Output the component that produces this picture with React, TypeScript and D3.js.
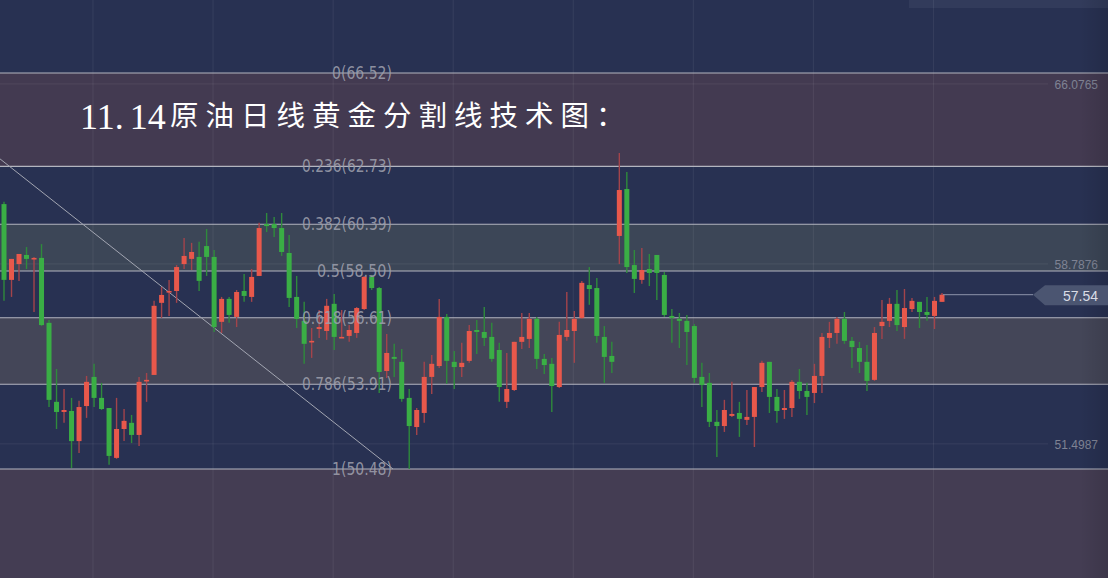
import React from 'react';
import * as d3 from 'd3';

const W = 1108;
const H = 578;

// OHLC data (daily crude oil candles)
const opens = [
  61.21, 58.14, 58.78, 59.15, 59.0, 59.03, 56.4, 53.2, 52.79, 52.83,
  51.61, 53.03, 54.21, 53.36, 52.95, 50.93, 52.1, 52.35, 51.86, 54.05,
  54.29, 57.21, 57.65, 57.69, 58.78, 58.99, 59.07, 59.51, 59.07, 56.44,
  57.37, 56.64, 57.69, 57.45, 58.3, 60.4, 60.4, 60.24, 59.23, 57.45,
  56.48, 55.63, 56.15, 56.07, 57.17, 55.79, 55.87, 55.99, 56.96, 58.26,
  57.81, 54.45, 55.02, 54.82, 53.36, 52.18, 52.75, 54.21, 54.65, 56.64,
  54.82, 54.61, 54.86, 56.11, 56.03, 55.83, 55.3, 53.2, 53.68, 55.63,
  55.75, 56.56, 54.94, 54.74, 53.8, 55.83, 56.07, 56.6, 57.93, 57.81,
  55.83, 55.06, 59.92, 61.82, 58.74, 58.14, 58.58, 59.15, 58.34, 56.68,
  56.56, 56.48, 56.27, 54.21, 53.97, 52.39, 52.22, 52.63, 52.75, 52.47,
  52.59, 53.8, 54.82, 53.4, 52.87, 52.95, 54.01, 53.64, 53.56, 54.25,
  55.79, 55.99, 56.56, 55.67, 55.38, 54.82, 54.09, 56.27, 56.48, 57.17,
  56.23, 56.96, 57.25, 56.84, 56.68, 57.25,
];
const highs = [
  61.3, 58.99, 59.19, 59.47, 59.07, 59.59, 56.52, 54.53, 53.72, 53.36,
  53.24, 54.25, 54.74, 53.97, 52.95, 53.36, 52.91, 52.67, 54.21, 54.37,
  57.29, 57.85, 58.14, 58.74, 59.84, 59.64, 59.68, 60.2, 59.35, 57.45,
  57.45, 57.73, 58.38, 58.58, 60.45, 60.85, 60.69, 60.85, 59.96, 58.3,
  57.25, 56.19, 56.92, 57.37, 57.57, 56.92, 56.31, 57.04, 58.3, 58.34,
  57.85, 55.95, 55.55, 55.34, 53.72, 52.95, 54.82, 55.1, 57.37, 56.76,
  55.26, 55.59, 56.31, 56.52, 57.04, 56.4, 55.59, 55.18, 55.63, 56.8,
  56.8, 56.64, 55.14, 54.98, 56.44, 57.65, 56.88, 58.1, 58.66, 58.22,
  56.27, 55.63, 63.28, 62.51, 59.35, 59.43, 59.19, 59.15, 58.46, 56.96,
  56.8, 56.72, 56.35, 54.78, 54.37, 52.87, 53.28, 54.01, 53.2, 53.68,
  53.8, 54.86, 54.82, 53.72, 53.68, 54.09, 54.53, 53.97, 54.74, 55.99,
  56.44, 56.64, 56.84, 55.83, 55.63, 55.5, 56.23, 57.33, 57.41, 57.73,
  57.77, 57.41, 57.25, 57.45, 57.45, 57.61,
];
const lows = [
  57.29, 57.45, 58.1, 58.58, 56.84, 56.27, 52.99, 52.1, 52.35, 50.52,
  51.13, 52.55, 52.99, 52.87, 50.65, 50.89, 51.61, 51.53, 51.41, 53.2,
  54.29, 56.6, 56.68, 57.21, 58.58, 58.54, 57.69, 58.3, 56.03, 55.99,
  56.4, 56.23, 57.25, 57.25, 58.3, 60.08, 59.88, 59.11, 57.04, 56.19,
  54.74, 54.98, 55.79, 55.71, 55.3, 55.79, 55.63, 55.79, 56.92, 57.73,
  53.56, 54.17, 54.21, 53.2, 50.48, 51.86, 52.35, 53.52, 54.57, 53.93,
  53.72, 54.21, 54.78, 55.14, 55.46, 54.82, 53.2, 52.95, 53.64, 55.34,
  55.38, 54.53, 54.33, 52.79, 53.76, 55.67, 54.78, 56.56, 57.13, 55.59,
  53.97, 54.37, 58.78, 58.42, 57.61, 57.98, 57.89, 57.33, 56.64, 55.59,
  55.38, 54.69, 53.97, 52.99, 52.18, 50.97, 51.98, 52.59, 51.78, 52.26,
  51.37, 53.6, 52.75, 52.35, 52.51, 52.59, 53.32, 52.67, 53.15, 53.56,
  55.38, 55.55, 55.55, 54.57, 54.37, 53.64, 54.05, 55.75, 56.23, 56.07,
  55.75, 56.84, 56.19, 56.48, 56.15, 57.25,
];
const closes = [
  58.14, 58.99, 59.19, 58.99, 59.03, 56.31, 53.28, 52.79, 52.87, 51.61,
  52.99, 54.01, 53.36, 52.91, 51.01, 52.1, 52.43, 51.86, 54.01, 54.09,
  57.09, 57.53, 57.69, 58.66, 59.11, 59.27, 58.1, 59.07, 56.23, 57.37,
  56.72, 57.65, 57.49, 58.26, 60.24, 60.32, 60.24, 59.27, 57.41, 56.56,
  55.55, 55.67, 56.23, 57.09, 55.83, 55.83, 56.11, 57.0, 58.26, 57.81,
  54.41, 55.18, 54.94, 53.32, 52.22, 52.87, 54.21, 54.74, 56.64, 54.86,
  54.61, 54.78, 56.07, 56.03, 55.79, 54.94, 53.8, 53.72, 55.63, 55.83,
  56.56, 54.94, 54.69, 53.84, 55.91, 56.11, 56.56, 58.02, 57.77, 55.87,
  55.02, 54.82, 61.78, 58.66, 58.18, 58.54, 58.42, 58.42, 56.72, 56.6,
  56.48, 56.03, 54.17, 53.88, 52.39, 52.22, 52.87, 52.71, 52.51, 52.59,
  53.8, 54.78, 53.4, 52.83, 52.95, 54.01, 53.64, 53.4, 54.25, 55.83,
  55.99, 56.56, 55.67, 55.42, 54.82, 54.05, 55.99, 56.44, 57.17, 56.31,
  57.0, 57.29, 56.84, 56.72, 57.29, 57.54,
];

// Fibonacci retracement
const fibHigh = 66.52;
const fibLow = 50.48;
const fibRatios = [0, 0.236, 0.382, 0.5, 0.618, 0.786, 1];
const fibLabels = ['0(66.52)', '0.236(62.73)', '0.382(60.39)', '0.5(58.50)', '0.618(56.61)', '0.786(53.91)', '1(50.48)'];
const fibZones = [
  { from: 0, to: 0.236, color: '#433a51' },
  { from: 0.382, to: 0.5, color: '#3c4657' },
  { from: 0.618, to: 0.786, color: '#444658' },
  { from: 1, to: 1.3, color: '#443d53' },
];

// right price axis
const axisTicks = [66.0765, 58.7876, 51.4987];
const lastPrice = 57.54;

// vertical grid positions (in candle index units)
const gridIdx = [11.86, 27.86, 43.86, 59.86, 75.86, 91.86, 107.86, 123.86];

// trend line (index, price)
const trendIdx = [-0.53, 51.84];
const trendPrice = [63.04, 50.48];

const titleNumA = '11.';
const titleNumB = '14';
const titleCn = '原油日线黄金分割线技术图：';

const UP = '#e8584b';
const DOWN = '#3aae45';
const UP_WICK = '#a3444b';
const DOWN_WICK = '#2f8a3c';

export default function App() {
  const y = d3.scaleLinear().domain([fibLow, fibHigh]).range([469, 73]);
  const x = d3.scaleLinear().domain([0, opens.length - 1]).range([4, 942]);
  const fibPrice = (r: number) => fibHigh - r * (fibHigh - fibLow);
  const bodyW = 5;
  const labelRight = 392;
  const trendLine = d3.line<number>()
    .x((_, i) => x(trendIdx[i]))
    .y((d) => y(d));

  const lastX = x(opens.length - 1);
  const lastY = y(lastPrice);
  const badgeX = 1033;

  return (
    <svg width={W} height={H} style={{ position: 'absolute', left: 0, top: 0, display: 'block' }}>
      <defs>
        <linearGradient id="edge" x1="0" x2="1" y1="0" y2="0">
          <stop offset="0" stopColor="#000" stopOpacity={0} />
          <stop offset="1" stopColor="#000" stopOpacity={0.12} />
        </linearGradient>
      </defs>
      <rect x={0} y={0} width={W} height={H} fill="#283152" />
      {fibZones.map((z, i) => {
        const y1 = y(fibPrice(z.from));
        const y2 = Math.min(H, y(fibPrice(z.to)));
        return <rect key={i} x={0} y={y1} width={W} height={y2 - y1 + (z.to > 1 ? H : 0)} fill={z.color} />;
      })}
      <rect x={909} y={0} width={W - 909} height={8} fill="#323b5b" />
      {gridIdx.map((g, i) => (
        <line key={i} x1={x(g)} x2={x(g)} y1={0} y2={H} stroke="#ffffff" strokeOpacity={0.07} />
      ))}
      {axisTicks.map((t, i) => (
        <line key={i} x1={0} x2={1048} y1={y(t)} y2={y(t)} stroke="#ffffff" strokeOpacity={0.07} />
      ))}
      {fibRatios.map((r, i) => (
        <line key={i} x1={0} x2={W} y1={y(fibPrice(r))} y2={y(fibPrice(r))} stroke="#b3b5bf" strokeWidth={1.2} />
      ))}
      <path d={trendLine(trendPrice) || ''} stroke="#a3a6b2" strokeWidth={1} fill="none" />
      {opens.map((o, i) => {
        const c = closes[i];
        const up = c >= o;
        const cx = x(i);
        const top = y(Math.max(o, c));
        const bot = y(Math.min(o, c));
        const h = Math.max(1.6, bot - top);
        return (
          <g key={i}>
            <line x1={cx} x2={cx} y1={y(highs[i])} y2={y(lows[i])} stroke={up ? UP_WICK : DOWN_WICK} strokeWidth={1.4} />
            <rect x={cx - bodyW / 2} y={top} width={bodyW} height={h} fill={up ? UP : DOWN} />
          </g>
        );
      })}
      {fibRatios.map((r, i) => (
        <text
          key={i}
          x={labelRight}
          y={y(fibPrice(r))}
          textAnchor="end"
          dominantBaseline="central"
          fontFamily="'DejaVu Sans', sans-serif"
          fontSize={17}
          fill="#9c9eab"
          fillOpacity={0.9}
          textLength={fibLabels[i].length * 7.5}
          lengthAdjust="spacingAndGlyphs"
        >
          {fibLabels[i]}
        </text>
      ))}
      {axisTicks.map((t, i) => (
        <text
          key={i}
          x={1098}
          y={y(t) + 1}
          textAnchor="end"
          dominantBaseline="central"
          fontFamily="'Liberation Sans', Arial, sans-serif"
          fontSize={12}
          fill="#7f8394"
        >
          {t.toFixed(4)}
        </text>
      ))}
      <rect x={1080} y={0} width={28} height={H} fill="url(#edge)" />
      <line x1={lastX + 1} x2={badgeX} y1={lastY} y2={lastY} stroke="#8d93aa" strokeWidth={1} />
      <path
        d={`M${badgeX},${lastY} L${badgeX + 12},${lastY - 9.5} L${W},${lastY - 9.5} L${W},${lastY + 10.5} L${badgeX + 12},${lastY + 10.5} Z`}
        fill="#4b5571"
      />
      <text
        x={1098}
        y={lastY + 1}
        textAnchor="end"
        dominantBaseline="central"
        fontFamily="'Liberation Sans', Arial, sans-serif"
        fontSize={14}
        fill="#dadde6"
      >
        {lastPrice.toFixed(2)}
      </text>
      <text x={80} y={129} fontFamily="'Liberation Serif', serif" fontSize={36} fill="#ffffff">
        <tspan>{titleNumA}</tspan>
        <tspan dx={6}>{titleNumB}</tspan>
      </text>
      <text
        x={170}
        y={126}
        fontFamily="'Noto Sans CJK SC', sans-serif"
        fontSize={28.5}
        letterSpacing={7}
        fill="#ffffff"
      >
        {titleCn}
      </text>
    </svg>
  );
}
